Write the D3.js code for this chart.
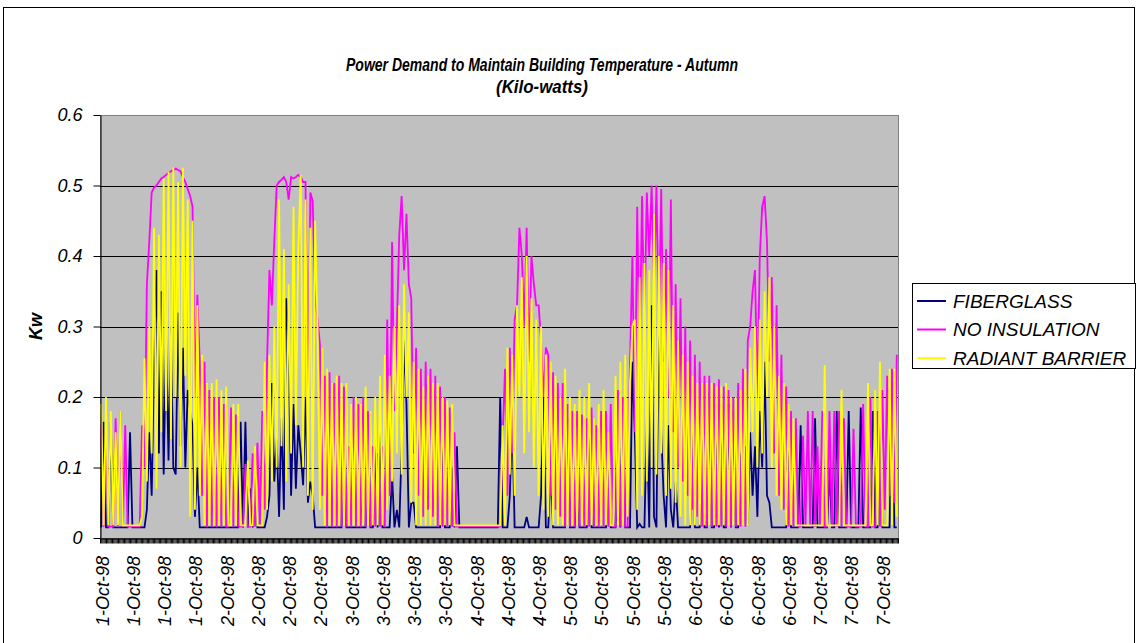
<!DOCTYPE html>
<html>
<head>
<meta charset="utf-8">
<script src="https://cdn.jsdelivr.net/npm/d3@7"></script>
<style>
  body { margin: 0; background: #fff; }
  svg text { font-family: 'Liberation Sans', Arial, sans-serif; font-style: italic; }
</style>
</head>
<body>
<svg width="1137" height="643"></svg>
<script>
  const seriesNames = ['FIBERGLASS', 'NO INSULATION', 'RADIANT BARRIER'];

  // demand in watts, one reading per half hour
  const fiberglassW = [
    15,165,15,15,165,15,15,15,15,15,
    15,15,150,15,15,15,15,15,15,40,
    150,60,250,380,120,350,90,290,110,300,
    100,90,320,130,270,100,210,180,160,30,
    100,15,15,15,15,15,15,15,15,15,
    15,15,15,15,15,15,15,15,165,15,
    165,15,70,15,90,15,15,15,15,30,
    60,220,80,140,30,170,40,340,270,60,
    190,70,160,120,75,200,50,80,60,15,
    15,15,15,15,15,15,15,15,15,15,
    15,190,15,15,15,15,15,15,15,15,
    15,170,15,15,130,15,160,15,15,15,
    15,90,15,40,15,130,280,190,15,50,
    50,15,15,15,15,15,15,15,15,15,
    15,15,150,15,15,15,100,15,130,15,
    15,15,15,15,15,15,15,15,15,15,
    15,15,15,15,15,15,200,15,15,15,
    60,180,15,15,15,15,15,30,15,15,
    15,15,15,60,200,15,15,100,15,15,
    15,15,15,15,170,15,15,15,80,15,
    15,15,15,180,15,15,15,15,15,15,
    15,100,15,15,15,190,15,200,15,15,
    15,250,150,15,20,15,15,170,15,330,
    30,15,320,150,60,15,160,40,15,80,
    15,15,15,15,15,15,210,15,15,15,
    190,15,15,190,15,15,190,15,190,15,
    15,190,15,180,15,15,120,40,130,20,
    150,60,130,30,180,100,250,60,50,15,
    15,15,15,15,15,15,170,15,15,15,
    15,160,15,15,15,15,15,170,15,15,
    15,15,15,100,15,15,180,15,15,15,
    15,180,15,15,15,15,185,15,15,15,
    15,180,15,15,170,15,15,15,15,200,
    15,15
  ];

  const noInsulationW = [
    160,16,135,16,16,16,170,16,180,16,
    160,16,16,16,16,16,16,160,100,360,
    420,490,497,500,505,510,512,515,518,520,
    522,524,522,520,512,505,495,485,470,200,
    345,250,60,250,16,210,16,200,16,200,
    16,190,16,16,185,16,175,16,16,16,
    105,16,16,120,16,135,16,180,40,250,
    380,330,420,500,505,508,512,505,480,512,
    510,512,515,512,505,505,150,490,478,340,
    310,275,60,230,16,235,16,220,16,230,
    16,215,16,130,16,200,16,190,16,200,
    16,180,16,130,16,120,16,130,16,310,
    60,420,180,300,430,485,380,460,360,340,
    120,270,60,240,30,250,40,240,30,230,
    16,215,16,200,16,185,16,150,16,16,
    16,16,16,16,16,16,16,16,16,16,
    16,16,16,16,16,16,16,140,240,60,
    270,120,310,330,440,400,300,440,250,400,
    360,330,330,280,200,270,260,60,235,40,
    220,30,220,16,190,16,180,16,180,16,
    175,16,170,16,185,16,160,16,180,16,
    180,16,190,16,16,210,16,200,16,16,
    250,400,150,470,250,485,300,490,400,500,
    350,500,300,495,250,410,200,480,150,360,
    100,340,80,300,60,280,40,260,30,250,
    16,230,16,230,16,220,16,225,16,215,
    16,210,16,200,16,220,16,240,16,280,
    300,350,380,200,400,470,485,420,250,370,
    120,330,60,260,40,215,16,180,16,170,
    16,16,145,16,180,16,180,16,130,16,
    180,16,16,180,16,180,16,180,16,170,
    16,16,16,155,16,16,16,190,16,16,
    200,16,16,180,16,210,40,230,60,240,
    50,260
  ];

  const radiantBarrierW = [
    190,18,200,18,180,18,150,18,180,18,
    18,18,18,18,18,18,18,30,255,80,
    300,120,440,70,430,150,510,180,520,140,
    525,200,505,100,525,230,480,30,450,40,
    330,60,260,18,220,18,220,18,225,18,
    210,18,215,18,18,190,18,190,18,18,
    18,110,18,18,130,18,18,18,250,40,
    260,80,300,100,480,130,410,80,360,120,
    470,160,410,515,100,480,60,440,40,450,
    300,40,270,18,240,18,220,18,230,18,
    220,18,220,18,190,18,200,18,190,18,
    215,18,180,18,200,18,230,18,260,40,
    230,80,300,120,330,90,360,200,320,50,
    250,18,240,18,215,18,230,18,220,18,
    220,18,200,18,195,18,190,18,18,18,
    18,18,18,18,18,18,18,18,18,18,
    18,18,18,18,18,18,18,160,18,270,
    90,260,60,330,200,370,120,400,150,340,
    100,310,60,300,40,260,30,250,18,230,
    18,200,18,240,18,200,18,190,18,210,
    18,200,18,220,18,170,18,190,18,210,
    18,150,18,18,230,18,250,18,260,30,
    220,300,310,40,370,60,390,80,380,100,
    460,90,400,120,390,60,380,70,330,50,
    280,30,260,18,250,18,230,18,220,18,
    220,18,220,18,220,18,215,18,215,18,
    220,18,200,18,200,18,210,18,240,18,
    270,150,300,100,310,120,350,200,370,100,
    300,60,230,40,220,18,190,18,170,18,
    18,18,18,18,18,18,18,18,18,18,
    18,245,18,18,18,18,18,18,210,18,
    18,18,18,18,18,18,18,18,18,220,
    18,18,210,18,250,18,18,18,240,18,
    240,30
  ];

  const xTickLabels = [
    '1-Oct-98', '1-Oct-98', '1-Oct-98', '1-Oct-98',
    '2-Oct-98', '2-Oct-98', '2-Oct-98', '2-Oct-98',
    '3-Oct-98', '3-Oct-98', '3-Oct-98', '3-Oct-98',
    '4-Oct-98', '4-Oct-98', '4-Oct-98',
    '5-Oct-98', '5-Oct-98', '5-Oct-98', '5-Oct-98',
    '6-Oct-98', '6-Oct-98', '6-Oct-98', '6-Oct-98',
    '7-Oct-98', '7-Oct-98', '7-Oct-98'
  ];
  const labelEvery = 13;
  const yTickValues = [0, 0.1, 0.2, 0.3, 0.4, 0.5, 0.6];

  const colors = ['#000080', '#ff00ff', '#ffff00'];
  const fontFamily = "'Liberation Sans', Arial, sans-serif";

  const svg = d3.select('svg');
  const width = +svg.attr('width');
  const height = +svg.attr('height');
  const plot = { left: 100, top: 115, right: 898, bottom: 538 };
  const n = noInsulationW.length;

  const xScale = d3.scaleLinear()
    .domain([0, n])
    .range([plot.left, plot.right]);

  const yScale = d3.scaleLinear()
    .domain([0, 0.6])
    .range([plot.bottom, plot.top]);

  svg.append('rect')
    .attr('width', width)
    .attr('height', height)
    .attr('fill', '#fff');

  // outer chart frame
  svg.append('rect')
    .attr('x', 3.5).attr('y', 7.5)
    .attr('width', 1131).attr('height', 660)
    .attr('fill', 'none')
    .attr('stroke', '#000');

  // plot area
  svg.append('rect')
    .attr('x', plot.left + 0.5).attr('y', plot.top + 0.5)
    .attr('width', plot.right - plot.left).attr('height', plot.bottom - plot.top)
    .attr('fill', '#c0c0c0')
    .attr('stroke', '#808080');

  svg.append('g')
    .selectAll('line').data(yTickValues.slice(1, -1))
    .enter().append('line')
      .attr('x1', plot.left).attr('x2', plot.right)
      .attr('y1', d => Math.round(yScale(d)) + 0.5)
      .attr('y2', d => Math.round(yScale(d)) + 0.5)
      .attr('stroke', '#000');

  const line = d3.line()
    .x((d, i) => xScale(i + 0.5))
    .y(d => yScale(d / 1000));

  svg.append('g')
    .selectAll('path').data([fiberglassW, noInsulationW, radiantBarrierW])
    .enter().append('path')
      .attr('d', line)
      .attr('fill', 'none')
      .attr('stroke', (d, i) => colors[i])
      .attr('stroke-width', 1.8)
      .attr('stroke-linejoin', 'miter');

  // y axis
  const yAxis = d3.axisLeft(yScale)
    .tickValues(yTickValues)
    .tickSize(7)
    .tickSizeOuter(0)
    .tickPadding(11)
    .tickFormat(d => d === 0 ? '0' : d3.format('.1f')(d));

  const yAxisG = svg.append('g')
    .attr('transform', `translate(${plot.left + 0.5},0)`)
    .call(yAxis)
    .attr('font-family', fontFamily)
    .attr('font-size', 18);
  yAxisG.selectAll('line, path').attr('stroke', '#000');
  yAxisG.selectAll('text').attr('fill', '#000');

  // category ticks along the bottom
  const xTickAxis = d3.axisBottom(xScale)
    .tickValues(d3.range(0, n + 0.25, 0.5))
    .tickSize(5)
    .tickSizeOuter(0)
    .tickFormat('');

  const xTickG = svg.append('g')
    .attr('transform', `translate(0,${plot.bottom + 0.5})`)
    .call(xTickAxis);
  xTickG.selectAll('line, path').attr('stroke', '#000');

  const xAxis = d3.axisBottom(xScale)
    .tickValues(xTickLabels.map((d, j) => j * labelEvery + 0.5))
    .tickSize(0)
    .tickFormat((d, j) => xTickLabels[j]);

  const xAxisG = svg.append('g')
    .attr('transform', `translate(0,${plot.bottom})`)
    .call(xAxis)
    .attr('font-family', fontFamily)
    .attr('font-size', 18);
  xAxisG.select('.domain').remove();
  xAxisG.selectAll('text')
    .attr('fill', '#000')
    .attr('transform', 'rotate(-90)')
    .attr('x', -18)
    .attr('y', 0)
    .attr('dy', '0.38em')
    .attr('text-anchor', 'end');

  svg.append('text')
    .attr('transform', `translate(42,${(plot.top + plot.bottom) / 2}) rotate(-90)`)
    .attr('text-anchor', 'middle')
    .attr('font-size', 18)
    .attr('font-weight', 'bold')
    .text('Kw');

  // title, drawn in a narrow face like the original
  const title = svg.append('text')
    .attr('text-anchor', 'middle')
    .attr('font-weight', 'bold')
    .attr('font-size', 19);
  title.append('tspan')
    .attr('x', 542).attr('y', 71)
    .attr('textLength', 392)
    .attr('lengthAdjust', 'spacingAndGlyphs')
    .text('Power Demand to Maintain Building Temperature - Autumn');
  title.append('tspan')
    .attr('x', 542).attr('y', 93)
    .attr('textLength', 92)
    .attr('lengthAdjust', 'spacingAndGlyphs')
    .text('(Kilo-watts)');

  // legend
  const legend = svg.append('g');
  legend.append('rect')
    .attr('x', 912.5).attr('y', 283.5)
    .attr('width', 223).attr('height', 85)
    .attr('fill', '#fff')
    .attr('stroke', '#000');

  const item = legend.selectAll('g.item').data(seriesNames)
    .enter().append('g')
      .attr('class', 'item')
      .attr('transform', (d, i) => `translate(0,${301 + i * 28.5})`);
  item.append('line')
    .attr('x1', 917).attr('x2', 946)
    .attr('stroke', (d, i) => colors[i])
    .attr('stroke-width', 2);
  item.append('text')
    .attr('x', 953)
    .attr('dy', '0.35em')
    .attr('font-size', 19)
    .text(d => d);
</script>
</body>
</html>
